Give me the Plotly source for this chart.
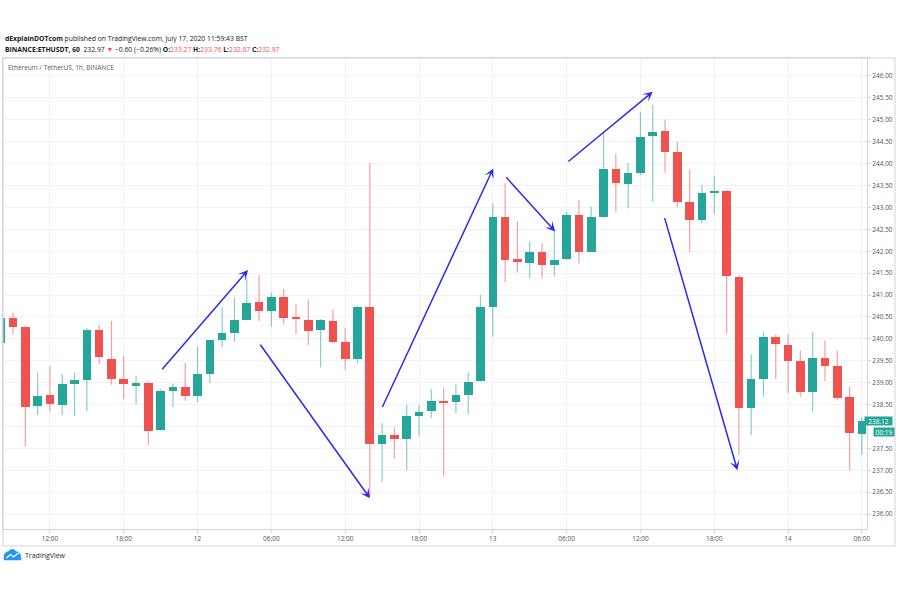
import numpy as np
import pandas as pd
import plotly.graph_objects as go

# ---------------- data (ETH/USDT, 1h, Binance) ----------------
times = pd.date_range("2020-07-11 08:00", "2020-07-14 06:00", freq="h")

opens = [239.90, 240.47, 240.28, 238.47, 238.72, 238.49, 238.97, 239.06, 240.20, 239.55,
         239.08, 238.92, 239.00, 237.92, 238.82, 238.91, 238.69, 239.20, 239.97, 240.13,
         240.44, 240.83, 240.63, 240.96, 240.50, 240.44, 240.20, 240.41, 239.93, 239.55,
         240.73, 237.60, 237.80, 237.71, 238.25, 238.36, 238.59, 238.55, 238.72, 239.04,
         240.72, 242.77, 241.82, 241.74, 241.99, 241.68, 241.82, 242.83, 241.99, 242.77,
         243.88, 243.53, 243.79, 244.63, 244.75, 244.26, 243.12, 242.71, 243.35, 243.38,
         241.42, 238.43, 239.08, 240.05, 239.87, 239.50, 238.78, 239.57, 239.38, 238.68,
         237.83]
highs = [240.50, 240.60, 240.30, 239.23, 239.38, 239.20, 239.23, 240.24, 240.32, 240.41,
         239.61, 239.15, 239.03, 238.85, 238.98, 239.45, 239.82, 239.98, 240.72, 240.94,
         241.38, 241.46, 241.06, 241.14, 240.79, 240.90, 240.45, 240.67, 240.24, 240.76,
         244.01, 238.08, 237.97, 238.49, 238.49, 238.85, 238.89, 238.95, 239.23, 241.00,
         243.09, 243.55, 242.67, 242.22, 242.19, 242.48, 242.90, 243.17, 243.02, 244.69,
         244.22, 244.01, 245.18, 245.34, 245.00, 244.50, 243.87, 243.51, 243.72, 243.40,
         241.44, 239.65, 240.15, 240.10, 240.11, 239.74, 240.15, 239.97, 239.73, 238.91,
         238.21]
lows = [239.85, 240.10, 237.54, 238.26, 238.35, 238.26, 238.24, 238.35, 239.42, 238.95,
        238.62, 238.51, 237.58, 237.90, 238.44, 238.59, 238.56, 239.00, 239.80, 239.93,
        240.43, 240.41, 240.28, 240.33, 240.11, 239.85, 239.35, 239.90, 239.29, 239.44,
        236.40, 236.74, 237.27, 237.00, 237.80, 238.19, 236.85, 238.30, 238.28, 239.02,
        240.05, 241.30, 241.51, 241.38, 241.38, 241.43, 241.80, 241.72, 241.98, 242.75,
        242.90, 242.98, 243.74, 243.13, 243.79, 243.00, 241.99, 242.64, 242.85, 240.13,
        237.35, 237.80, 238.68, 239.08, 238.76, 238.68, 238.34, 239.04, 238.60, 237.00,
        237.35]
closes = [240.47, 240.28, 238.45, 238.70, 238.51, 238.97, 239.06, 240.20, 239.58, 239.08,
          238.97, 239.00, 237.90, 238.82, 238.91, 238.70, 239.20, 239.97, 240.13, 240.44,
          240.81, 240.63, 240.96, 240.47, 240.45, 240.18, 240.43, 239.92, 239.55, 240.73,
          237.60, 237.80, 237.71, 238.24, 238.34, 238.59, 238.55, 238.72, 239.02, 240.72,
          242.79, 241.80, 241.75, 241.99, 241.68, 241.80, 242.83, 241.99, 242.77, 243.88,
          243.56, 243.79, 244.61, 244.73, 244.26, 243.13, 242.71, 243.32, 243.38, 241.44,
          238.43, 239.08, 240.05, 239.88, 239.50, 238.79, 239.57, 239.38, 238.66, 237.84,
          238.12]

# hand-drawn trend arrows: (start time, start price) -> (end time, end price)
arrow_start_t = ["2020-07-11 21:01", "2020-07-12 05:01", "2020-07-12 14:58",
                 "2020-07-13 00:59", "2020-07-13 06:01", "2020-07-13 13:56"]
arrow_start_p = [239.27, 239.90, 238.41, 243.72, 244.02, 242.79]
arrow_end_t = ["2020-07-12 04:06", "2020-07-12 14:01", "2020-07-13 00:02",
               "2020-07-13 05:04", "2020-07-13 13:00", "2020-07-13 19:53"]
arrow_end_p = [241.57, 236.36, 243.89, 242.45, 245.64, 237.00]

tick_times = ["2020-07-11 12:00", "2020-07-11 18:00", "2020-07-12 00:00", "2020-07-12 06:00",
              "2020-07-12 12:00", "2020-07-12 18:00", "2020-07-13 00:00", "2020-07-13 06:00",
              "2020-07-13 12:00", "2020-07-13 18:00", "2020-07-14 00:00", "2020-07-14 06:00"]
tick_labels = ["12:00", "18:00", "12", "06:00", "12:00", "18:00", "13", "06:00",
               "12:00", "18:00", "14", "06:00"]

# price-scale labels (238.00 is hidden behind the last-price tag)
price_ticks = [236.0, 236.5, 237.0, 237.5, 238.5, 239.0, 239.5, 240.0, 240.5, 241.0,
               241.5, 242.0, 242.5, 243.0, 243.5, 244.0, 244.5, 245.0, 245.5, 246.0]
grid_prices = [238.0]

last_price = "238.12"
countdown = "00:19"

# ---------------- styling ----------------
UP = "#26a69a"
DOWN = "#ef5350"
UP_WICK = "rgba(38,166,154,0.55)"
DOWN_WICK = "rgba(239,83,80,0.55)"
ARROW = "#2b2bef"
FONT = "Open Sans"
GRID = "#f0f2f7"
BORDER = "#d1d4dc"

W, H = 900, 600
ML, MR, MT, MB = 3, 33, 58, 71
PW, PH = W - ML - MR, H - MT - MB


def px(x):
    return (x - ML) / PW


def py(y):
    return (H - MB - y) / PH


o = np.array(opens)
c = np.array(closes)
hi = np.maximum(np.array(highs), np.maximum(o, c))
lo = np.minimum(np.array(lows), np.minimum(o, c))
up = c >= o

fig = go.Figure()

# wicks
for mask, col in [(up, UP_WICK), (~up, DOWN_WICK)]:
    xs, ys = [], []
    for t, l, h in zip(times[mask], lo[mask], hi[mask]):
        xs += [t, t, None]
        ys += [l, h, None]
    fig.add_trace(go.Scatter(x=xs, y=ys, mode="lines", line=dict(color=col, width=1.2),
                             hoverinfo="skip", showlegend=False))

# bodies
bar_w = 0.7 * 3600 * 1000
for mask, col in [(up, UP), (~up, DOWN)]:
    base = np.minimum(o, c)[mask]
    hgt = np.maximum(np.abs(c - o)[mask], 0.03)
    fig.add_trace(go.Bar(x=times[mask], y=hgt, base=base, width=bar_w,
                         marker=dict(color=col, line=dict(width=0)),
                         showlegend=False, hoverinfo="skip"))

# arrows
for st, sp, et, ep in zip(arrow_start_t, arrow_start_p, arrow_end_t, arrow_end_p):
    fig.add_annotation(x=et, y=ep, ax=st, ay=sp, xref="x", yref="y", axref="x", ayref="y",
                       text="", showarrow=True, arrowhead=3, arrowsize=1.1,
                       arrowwidth=1.5, arrowcolor=ARROW, standoff=0, startstandoff=0)

# gridline hidden behind tag still drawn
for gp in grid_prices:
    fig.add_shape(type="line", xref="paper", yref="y", x0=0, x1=1, y0=gp, y1=gp,
                  line=dict(color=GRID, width=1), layer="below")

x0 = pd.Timestamp("2020-07-11 08:11")
x1 = pd.Timestamp("2020-07-14 06:25")

fig.update_layout(
    width=W, height=H,
    margin=dict(l=ML, r=MR, t=MT, b=MB),
    paper_bgcolor="white", plot_bgcolor="white",
    barmode="overlay", bargap=0,
    showlegend=False,
    font=dict(family=FONT, size=7, color="#50535e"),
    xaxis=dict(type="date", range=[x0, x1], tickvals=tick_times, ticktext=tick_labels,
               showgrid=True, gridcolor=GRID, gridwidth=1,
               showline=True, linecolor=BORDER, linewidth=1, mirror=True,
               ticks="outside", ticklen=3, tickcolor=BORDER,
               tickfont=dict(size=6.5, color="#50535e"), zeroline=False,
               rangeslider=dict(visible=False), fixedrange=True),
    yaxis=dict(side="right", range=[235.66, 246.41], tickvals=price_ticks,
               tickformat=".2f", showgrid=True, gridcolor=GRID, gridwidth=1,
               showline=True, linecolor=BORDER, linewidth=1, mirror=True,
               ticks="outside", ticklen=3, tickcolor=BORDER,
               tickfont=dict(size=6.5, color="#50535e"), zeroline=False, fixedrange=True),
)

# outer box including price & time scales
fig.add_shape(type="rect", xref="paper", yref="paper", x0=0, x1=px(895), y0=py(546), y1=1,
              line=dict(color=BORDER, width=1), fillcolor="rgba(0,0,0,0)", layer="above")

# header text
dark = "#131722"
red = DOWN
fig.add_annotation(xref="paper", yref="paper", x=px(3), y=py(38), xanchor="left", yanchor="middle",
                   showarrow=False, font=dict(family=FONT, size=6.8, color=dark),
                   text="<b>dExplainDOTcom</b> published on TradingView.com, July 17, 2020 11:59:43 BST")
fig.add_annotation(xref="paper", yref="paper", x=px(3), y=py(49), xanchor="left", yanchor="middle",
                   showarrow=False, font=dict(family=FONT, size=6.8, color=dark),
                   text=("<b>BINANCE:ETHUSDT, 60</b>  232.97 <span style='color:%s'>▼</span> "
                         "−0.60 (−0.26%%) <b>O:</b><span style='color:%s'>233.27</span> "
                         "<b>H:</b><span style='color:%s'>233.76</span> "
                         "<b>L:</b><span style='color:%s'>232.87</span> "
                         "<b>C:</b><span style='color:%s'>232.97</span>") % (red, red, red, red, red))
fig.add_annotation(xref="paper", yref="paper", x=px(6), y=py(67), xanchor="left", yanchor="middle",
                   showarrow=False, font=dict(family=FONT, size=6.5, color="#555a66"),
                   text="Ethereum / TetherUS, 1h, BINANCE")

# last price tag
fig.add_annotation(xref="paper", yref="y", x=px(864), y=float(last_price), xanchor="left",
                   yanchor="middle", showarrow=False, text=last_price, bgcolor=UP,
                   font=dict(family=FONT, size=6.5, color="white"), width=27, height=8,
                   borderpad=0, align="center")
fig.add_annotation(xref="paper", yref="y", x=px(873), y=float(last_price), yshift=-11,
                   xanchor="left", yanchor="middle", showarrow=False, text=countdown, bgcolor=UP,
                   font=dict(family=FONT, size=6.5, color="white"), width=20, height=8,
                   borderpad=0, align="center")

# TradingView logo
cloud = ("M {a} {b} L {c} {b} Q {d} {e} {f} {g} Q {h} {i} {j} {k} Q {l} {m} {a} {n} Z").format(
    a=px(4), b=py(560), c=px(21), d=px(21.5), e=py(552), f=px(16), g=py(551.5),
    h=px(12.5), i=py(547), j=px(8.5), k=py(551.5), l=px(3.5), m=py(552.5), n=py(557))
fig.add_shape(type="path", xref="paper", yref="paper", path=cloud,
              fillcolor="#2196f3", line=dict(color="#2196f3", width=0.5))
zig = "M {a} {b} L {c} {d} L {e} {f} L {g} {h}".format(
    a=px(6.5), b=py(558), c=px(10.5), d=py(554.5), e=px(13.5), f=py(557), g=px(18.5), h=py(553))
fig.add_shape(type="path", xref="paper", yref="paper", path=zig,
              line=dict(color="white", width=1.2))
fig.add_annotation(xref="paper", yref="paper", x=px(23), y=py(555.5), xanchor="left",
                   yanchor="middle", showarrow=False, text="TradingView",
                   font=dict(family=FONT, size=7, color="#2a2e39"))

fig.write_html("out.html")
